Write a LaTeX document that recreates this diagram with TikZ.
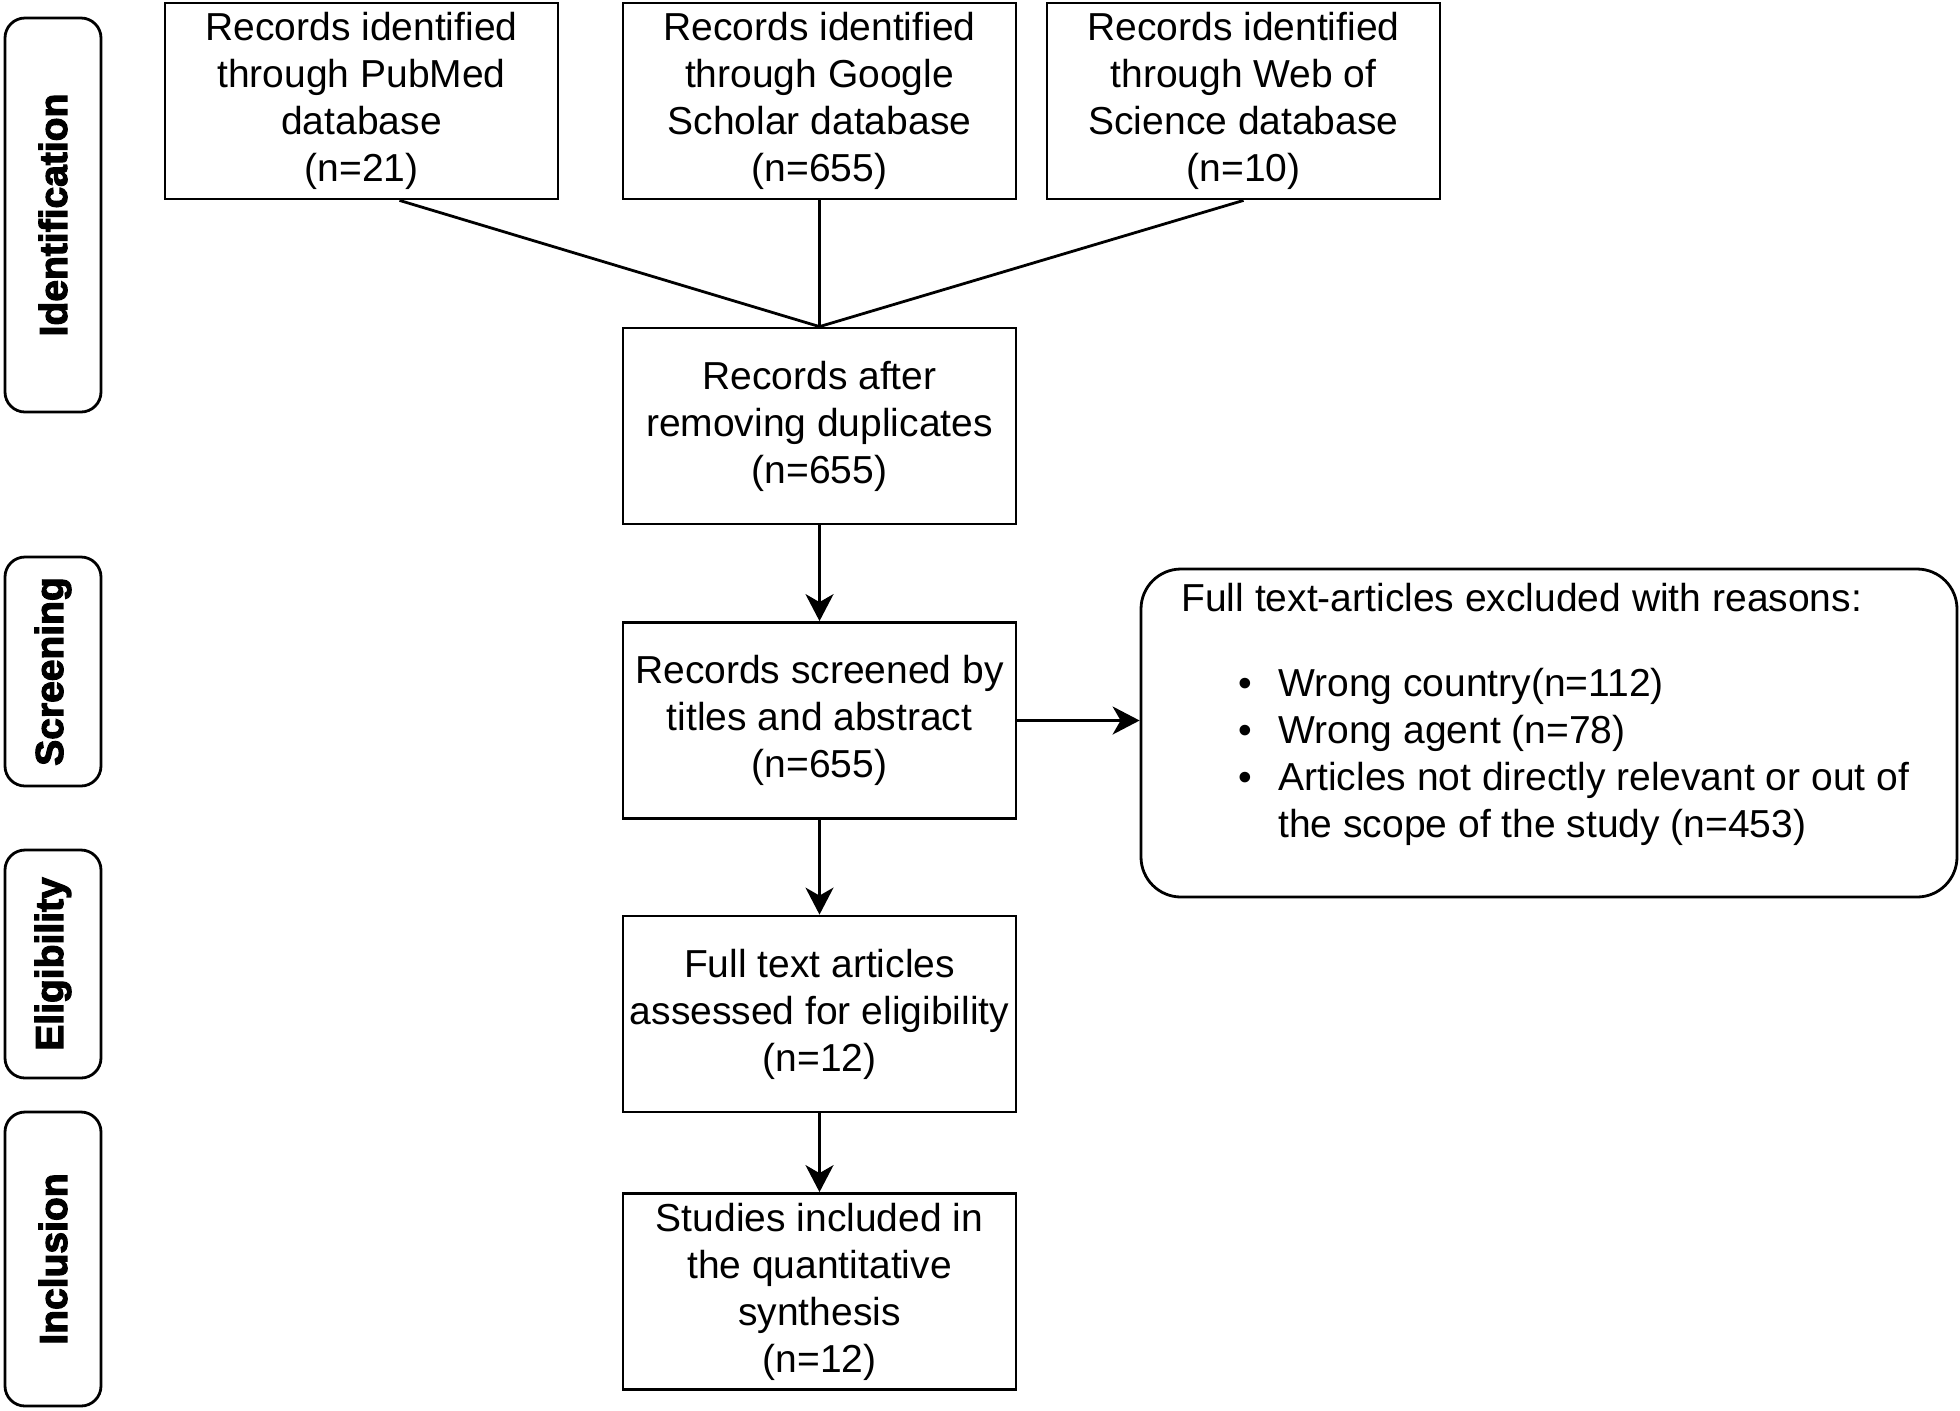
\documentclass[tikz,border=0pt]{standalone}
\usepackage{fontspec}
\setmainfont{Liberation Sans}
\newfontfamily\phasefont{Liberation Sans Bold}[FakeBold=3]
\usetikzlibrary{arrows.meta}
\newdimen\px \px=0.5pt
\begin{document}
\begin{tikzpicture}[x=0.5pt,y=-0.5pt,
  box/.style={draw, line width=1.4pt, rectangle, minimum width=196.5pt, minimum height=98pt, inner sep=0pt, align=center, font=\fontsize{19.5pt}{23.5pt}\selectfont},
  phase/.style={draw, line width=1.4pt, rounded corners=10pt, minimum height=48pt, inner sep=0pt, rotate=90, font=\phasefont\fontsize{19.5pt}{22pt}\selectfont},
  conn/.style={line width=1.4pt},
  arr/.style={conn, -{Stealth[length=13.5pt,width=14pt,inset=4pt]}}
]
\useasboundingbox (0,0) rectangle (1960,1410);

% phase labels
\node[phase, minimum width=197pt] (ident) at (53,215) {Identification};
\node[phase, minimum width=114.5pt] (scr) at (53,671.5) {Screening};
\node[phase, minimum width=114pt] (elig) at (53,964) {Eligibility};
\node[phase, minimum width=147pt] (incl) at (53,1259) {Inclusion};

% boxes
\node[box] (pubmed) at (361.5,101) {Records identified\\through PubMed\\database\\(n=21)};
\node[box] (google) at (819.5,101) {Records identified\\through Google\\Scholar database\\(n=655)};
\node[box] (wos) at (1243.5,101) {Records identified\\through Web of\\Science database\\(n=10)};
\node[box] (after) at (819.5,426) {Records after\\removing duplicates\\(n=655)};
\node[box] (screen) at (819.5,720.5) {Records screened by\\titles and abstract\\(n=655)};
\node[box] (full) at (819.5,1014) {Full text articles\\assessed for eligibility\\(n=12)};
\node[box] (studies) at (819.5,1291.5) {Studies included in\\the quantitative\\synthesis\\(n=12)};

% excluded box
\node[draw, line width=1.4pt, rounded corners=20pt, minimum width=408pt, minimum height=164pt, inner sep=0pt] (excl) at (1549,733) {};
\node[anchor=base west, align=left, inner sep=0pt, font=\fontsize{19.5pt}{23.4pt}\selectfont] (excltxt) at (1181,837)
{Full text-articles excluded with reasons:\\[38\px]
\hspace*{97\px}\llap{•\hspace{26\px}}Wrong country(n=112)\\
\hspace*{97\px}\llap{•\hspace{26\px}}Wrong agent (n=78)\\
\hspace*{97\px}\llap{•\hspace{26\px}}Articles not directly relevant or out of\\
\hspace*{97\px}the scope of the study (n=453)};

% connectors
\draw[conn] ([xshift=19pt]pubmed.south) -- (after.north);
\draw[conn] (google.south) -- (after.north);
\draw[conn] (wos.south) -- (after.north);
\draw[arr] (after.south) -- (screen.north);
\draw[arr] (screen.south) -- (full.north);
\draw[arr] (full.south) -- (studies.north);
\draw[arr] (screen.east) -- (screen.east -| excl.west);
\end{tikzpicture}
\end{document}
